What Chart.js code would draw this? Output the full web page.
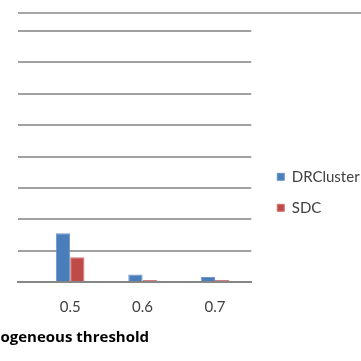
<!DOCTYPE html>
<html>
<head>
<meta charset="utf-8">
<script src="https://cdn.jsdelivr.net/npm/chart.js@4"></script>
<style>
  html, body { margin: 0; padding: 0; background: #ffffff; }
  #frame { position: relative; width: 361px; height: 361px; overflow: hidden; }
  #rule { position: absolute; left: 18px; top: 12px; width: 343px; height: 2px; background: #a6a6a6; }
  #chart { position: absolute; left: -35px; top: 0; }
</style>
</head>
<body>
<div id="frame">
  <canvas id="chart" width="395" height="361"></canvas>
  <div id="rule"></div>
</div>
<script>
// Homogeneous threshold values on the x axis
const thresholds = [0.5, 0.6, 0.7];
// Results per method
const drclusterValues = [1.55, 0.24, 0.16];
const sdcValues = [0.79, 0.06, 0.06];
const seriesNames = ['DRCluster', 'SDC'];
const axisTitle = 'Homogeneous threshold';

const SHIFT = 35;          // canvas is slid left so the plot starts near the page edge
const FONT = 'Lato, "Open Sans", sans-serif';
const TITLE_FONT = '"Open Sans", Lato, sans-serif';

const toPoints = vals => vals.map((v, i) => ({ x: thresholds[i], y: v }));

new Chart(document.getElementById('chart'), {
  type: 'bar',
  data: {
    datasets: [
      { label: seriesNames[0], data: toPoints(drclusterValues),
        backgroundColor: '#4a7ebb', borderColor: '#6b95c9', borderWidth: 1,
        categoryPercentage: 0.395, barPercentage: 1.0 },
      { label: seriesNames[1], data: toPoints(sdcValues),
        backgroundColor: '#be4b48', borderColor: '#d07270', borderWidth: 1,
        categoryPercentage: 0.395, barPercentage: 1.0 }
    ]
  },
  options: {
    responsive: false,
    maintainAspectRatio: false,
    animation: false,
    devicePixelRatio: 1,
    layout: { padding: { top: 31, bottom: 17, left: 0, right: 0 } },
    scales: {
      x: {
        type: 'linear',
        offset: false,
        min: 0.428, max: 0.75,
        afterBuildTicks: s => { s.ticks = thresholds.map(v => ({ value: v })); },
        grid: { display: false, drawTicks: false },
        border: { display: true, color: '#868686', width: 2 },
        ticks: { color: '#404040', font: { family: FONT, size: 15 }, padding: 16,
                 callback: v => v.toFixed(1) }
      },
      y: {
        min: 0, max: 8,
        ticks: { display: false, stepSize: 1 },
        grid: { color: '#a0a0a0', lineWidth: 2, drawTicks: false },
        border: { display: false },
        afterFit: s => { s.width = 18 + SHIFT; }
      },
      gap: {
        position: 'right',
        display: false,
        afterFit: s => { s.width = 10; }
      }
    },
    plugins: {
      tooltip: { enabled: false },
      legend: {
        position: 'right',
        align: 'center',
        title: { display: true, text: '', padding: 0, font: { size: 8 } },
        labels: { boxWidth: 7, boxHeight: 7, padding: 16, color: '#404040',
                  font: { family: FONT, size: 15 } }
      },
      title: {
        display: true,
        position: 'bottom',
        align: 'start',
        text: axisTitle,
        color: '#000000',
        font: { family: TITLE_FONT, size: 15, weight: 'bold', lineHeight: 0.8 },
        padding: { top: 0, bottom: 0 }
      }
    }
  }
});
</script>
</body>
</html>
